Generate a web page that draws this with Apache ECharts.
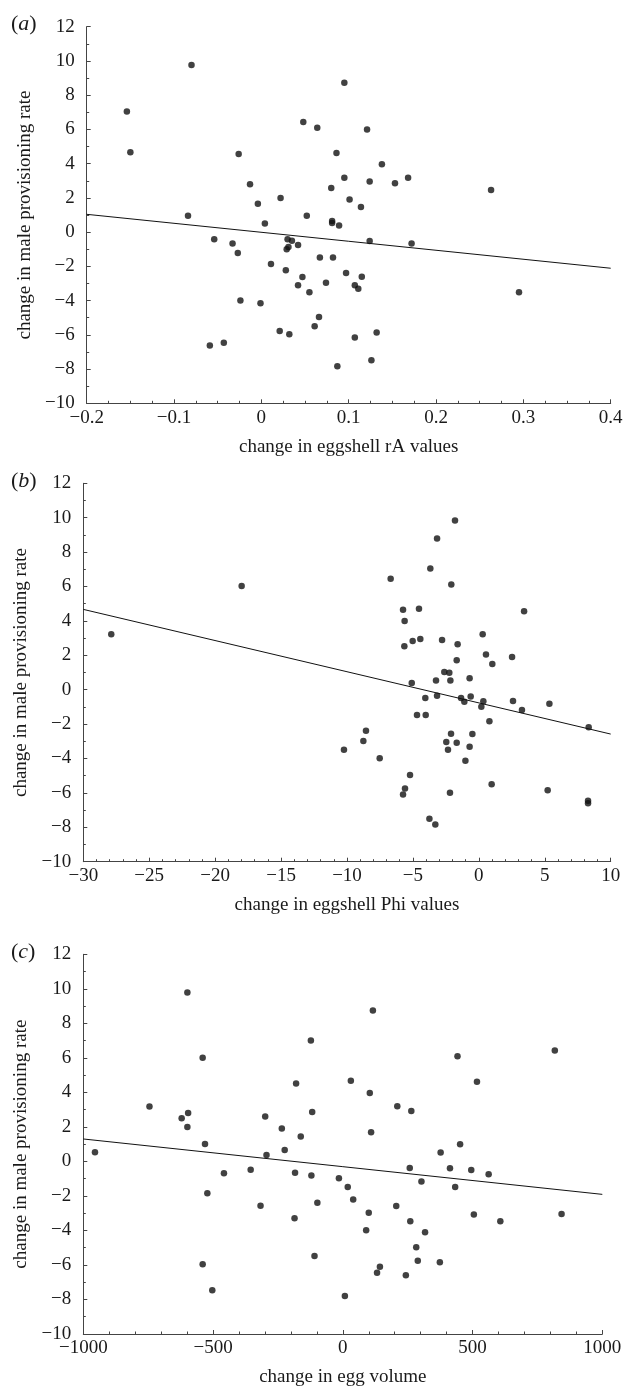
<!DOCTYPE html>
<html>
<head>
<meta charset="utf-8">
<script src="https://cdn.jsdelivr.net/npm/echarts@6/dist/echarts.min.js"></script>
<style>
html,body{margin:0;padding:0;background:#fff;}
#chart{width:626px;height:1388px;}
</style>
</head>
<body>
<div id="chart"></div>
<script>
// Panel (a): change in eggshell rA values vs change in male provisioning rate
var aX = [-0.154,-0.150,-0.080,-0.084,-0.054,-0.033,-0.027,-0.026,-0.024,-0.059,-0.043,-0.013,-0.004,-0.001,0.004,0.011,0.022,0.028,0.030,0.035,0.029,0.031,0.042,0.021,0.032,0.042,0.047,0.048,0.052,0.055,0.061,0.066,0.064,0.067,0.074,0.080,0.081,0.081,0.082,0.086,0.089,0.087,0.095,0.121,0.138,0.095,0.124,0.153,0.168,0.263,0.101,0.114,0.124,0.172,0.097,0.115,0.107,0.111,0.295,0.107,0.132,0.126];
var aY = [7.04,4.66,9.76,0.96,-0.42,-0.67,-1.22,4.56,-4.0,-6.63,-6.46,2.79,1.66,-4.16,0.50,-1.86,1.99,-2.23,-0.42,-0.50,-1.0,-0.87,-0.75,-5.78,-5.97,-3.1,-2.62,6.43,0.96,-3.52,-5.5,-4.96,6.1,-1.49,-2.96,2.58,0.65,0.53,-1.49,4.62,0.38,-7.84,8.73,6.0,3.97,3.17,2.95,2.85,3.17,2.46,1.91,1.47,-0.52,-0.67,-2.39,-2.61,-3.1,-3.31,-3.52,-6.15,-5.87,-7.49];
var aFitX = [-0.2, 0.4];
var aFitY = [1.04, -2.11];

// Panel (b): change in eggshell Phi values
var bX = [-27.88,-17.99,-1.81,-3.17,-3.68,-6.69,-2.09,-5.75,-4.54,-5.63,3.43,0.29,-5.65,-5.02,-4.44,-2.79,-1.61,0.54,2.52,1.02,-1.68,-2.62,-2.24,-2.16,-3.25,-0.70,-5.09,-3.17,-4.06,-1.35,-1.10,-0.62,0.34,0.19,2.59,3.27,5.35,8.33,0.80,-4.69,-4.03,-8.56,-8.76,-10.23,-7.52,-2.11,-2.47,-2.34,-1.68,-0.49,-0.70,-1.02,-5.22,-5.60,-5.75,-2.19,0.97,5.22,8.28,8.28,-3.75,-3.30];
var bY = [3.22,6.03,9.83,8.79,7.04,6.45,6.12,4.65,4.71,4.0,4.56,3.22,2.52,2.83,2.95,2.89,2.64,2.04,1.90,1.49,1.71,1.03,0.99,0.54,0.54,0.66,0.39,-0.35,-0.48,-0.48,-0.70,-0.39,-0.67,-0.99,-0.66,-1.18,-0.81,-2.19,-1.84,-1.47,-1.47,-2.38,-2.98,-3.49,-3.99,-2.56,-3.04,-3.49,-3.08,-2.57,-3.31,-4.13,-4.96,-5.74,-6.10,-5.99,-5.50,-5.85,-6.45,-6.60,-7.50,-7.83];
var bFitX = [-30, 10];
var bFitY = [4.67, -2.58];

// Panel (c): change in egg volume
var cX = [-955,-745,-599,-540,-621,-596,-599,-531,-458,-522,-540,-503,-355,-317,-299,-294,-235,-224,-180,-184,-186,-162,-123,-118,-121,-98,-109,-15,116,31,104,210,264,109,442,817,517,452,377,258,413,495,562,303,433,19,40,206,100,505,607,843,260,90,317,283,289,374,143,132,243,8];
var cY = [0.53,3.18,9.78,6.01,2.5,2.81,2.0,1.01,-0.69,-1.85,-5.96,-7.47,-0.48,-2.57,2.6,0.37,1.9,0.66,4.52,-0.65,-3.3,1.45,7.0,2.87,-0.82,-2.39,-5.48,-0.98,8.74,4.68,3.97,3.19,2.92,1.69,6.1,6.42,4.62,0.99,0.51,-0.38,-0.40,-0.50,-0.75,-1.17,-1.48,-1.48,-2.2,-2.58,-2.97,-3.07,-3.47,-3.05,-3.47,-3.99,-4.11,-4.98,-5.75,-5.85,-6.1,-6.45,-6.6,-7.8];
var cFitX = [-1000, 1000];
var cFitY = [1.30, -1.91];

var panelLetters = ['a', 'b', 'c'];
var xNames = ['change in eggshell rA values', 'change in eggshell Phi values', 'change in egg volume'];
var yName = 'change in male provisioning rate';
var xRanges = [[-0.2, 0.4, 0.1, 4], [-30, 10, 5, 5], [-1000, 1000, 500, 5]];
var yRange = [-10, 12, 2, 2];

function zip(xs, ys) { return xs.map(function (v, i) { return [v, ys[i]]; }); }
function fmt(v) {
  var n = parseFloat(Number(v).toFixed(3));
  if (n === 0) return '0';
  return n < 0 ? '\u2212' + String(-n) : String(n);
}

var FONT = '"Liberation Serif", "DejaVu Serif", serif';
var TXT = '#1a1a1a';
var AX = '#444';

var grids = [
  {left: 86.7, top: 26.7, width: 524, height: 376.6},
  {left: 83.3, top: 483.3, width: 527.4, height: 378.4},
  {left: 83.3, top: 954.3, width: 519, height: 379.7}
];
var titleTops = [8, 465, 936];

var option = {
  animation: false,
  backgroundColor: '#fff',
  textStyle: {fontFamily: FONT},
  title: panelLetters.map(function (l, i) {
    return {
      text: '{n|(}{i|' + l + '}{n|)}',
      left: 6, top: titleTops[i],
      textStyle: {
        fontWeight: 'normal',
        rich: {
          n: {fontFamily: FONT, fontSize: 22, fontWeight: 'normal', color: TXT},
          i: {fontFamily: FONT, fontSize: 22, fontWeight: 'normal', fontStyle: 'italic', color: TXT}
        }
      }
    };
  }),
  grid: grids.map(function (g) {
    return {left: g.left, top: g.top, width: g.width, height: g.height, containLabel: false, outerBoundsMode: 'none'};
  }),
  xAxis: xRanges.map(function (r, i) {
    return {
      type: 'value', gridIndex: i, min: r[0], max: r[1], interval: r[2],
      name: xNames[i], nameLocation: 'middle', nameGap: 34,
      nameTextStyle: {fontFamily: FONT, fontSize: 19, color: TXT},
      axisLine: {show: true, onZero: false, lineStyle: {color: AX, width: 1}},
      axisTick: {show: true, inside: true, length: 4, lineStyle: {color: AX}},
      minorTick: {show: true, splitNumber: r[3], length: 2.5, lineStyle: {color: AX}},
      axisLabel: {fontFamily: FONT, fontSize: 19, color: TXT, margin: 5, formatter: fmt, showMinLabel: true, showMaxLabel: true, hideOverlap: false},
      splitLine: {show: false},
      minorSplitLine: {show: false}
    };
  }),
  yAxis: grids.map(function (g, i) {
    return {
      type: 'value', gridIndex: i, min: yRange[0], max: yRange[1], interval: yRange[2],
      name: yName, nameLocation: 'middle', nameGap: 50, nameRotate: 90,
      nameTextStyle: {fontFamily: FONT, fontSize: 19, color: TXT},
      axisLine: {show: true, onZero: false, lineStyle: {color: AX, width: 1}},
      axisTick: {show: true, inside: true, length: 4, lineStyle: {color: AX}},
      minorTick: {show: true, splitNumber: yRange[3], length: 2.5, lineStyle: {color: AX}},
      axisLabel: {fontFamily: FONT, fontSize: 19, color: TXT, margin: 12, formatter: fmt, showMinLabel: true, showMaxLabel: true, hideOverlap: false},
      splitLine: {show: false},
      minorSplitLine: {show: false}
    };
  }),
  series: [
    {type: 'scatter', xAxisIndex: 0, yAxisIndex: 0, data: zip(aX, aY), symbolSize: 6.5, itemStyle: {color: '#111'}},
    {type: 'line', xAxisIndex: 0, yAxisIndex: 0, data: zip(aFitX, aFitY), showSymbol: false, symbol: 'none', lineStyle: {color: '#111', width: 1}},
    {type: 'scatter', xAxisIndex: 1, yAxisIndex: 1, data: zip(bX, bY), symbolSize: 6.5, itemStyle: {color: '#111'}},
    {type: 'line', xAxisIndex: 1, yAxisIndex: 1, data: zip(bFitX, bFitY), showSymbol: false, symbol: 'none', lineStyle: {color: '#111', width: 1}},
    {type: 'scatter', xAxisIndex: 2, yAxisIndex: 2, data: zip(cX, cY), symbolSize: 6.5, itemStyle: {color: '#111'}},
    {type: 'line', xAxisIndex: 2, yAxisIndex: 2, data: zip(cFitX, cFitY), showSymbol: false, symbol: 'none', lineStyle: {color: '#111', width: 1}}
  ]
};

var chart = echarts.init(document.getElementById('chart'), null, {renderer: 'canvas'});
chart.setOption(option);
</script>
</body>
</html>
